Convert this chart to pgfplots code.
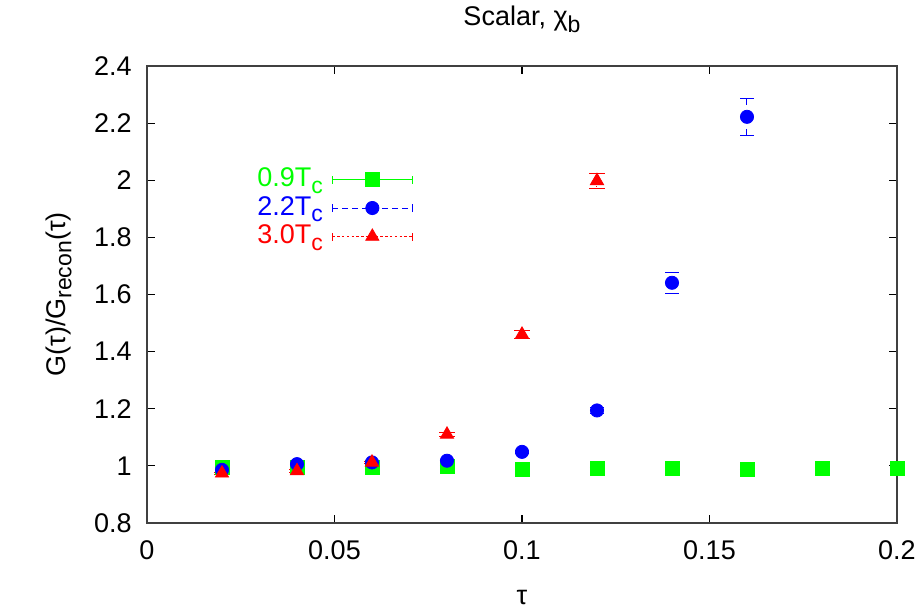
\documentclass[border=0pt]{standalone}
\usepackage{pgfplots}
\pgfplotsset{compat=1.18}
\usepackage{fontspec}
\setmainfont{Liberation Sans}
\usepackage{xcolor}
\definecolor{gpgreen}{RGB}{0,255,0}
\definecolor{gpblue}{RGB}{0,0,255}
\definecolor{gpred}{RGB}{255,0,0}
\newcommand{\gsub}[1]{\raisebox{-0.45ex}{\fontsize{11.5}{13}\selectfont #1}}

\pgfplotstableread{
x y e
0.02 0.996 0.003
0.04 0.993 0.003
0.06 0.996 0.003
0.08 0.998 0.003
0.10 0.986 0.003
0.12 0.990 0.003
0.14 0.990 0.003
0.16 0.986 0.003
0.18 0.990 0.003
0.20 0.990 0.003
}\datalow

\pgfplotstableread{
x y e
0.02 0.986 0.004
0.04 1.006 0.004
0.06 1.012 0.004
0.08 1.018 0.005
0.10 1.049 0.006
0.12 1.194 0.010
0.14 1.641 0.036
0.16 2.222 0.066
}\datamid

\pgfplotstableread{
x y e
0.02 0.974 0.004
0.04 0.982 0.004
0.06 1.012 0.005
0.08 1.110 0.008
0.10 1.460 0.015
0.12 1.998 0.027
}\datahigh

% legend sample: horizontal error bar with end caps and the mark in the middle
\pgfplotsset{
  gpkey/.style 2 args={
    legend image code/.code={
      \draw[#1, line width=0.5pt, #2] (0pt,0pt) -- (40pt,0pt);
      \draw[#1, line width=0.5pt, solid] (0pt,-2pt) -- (0pt,2pt) (40pt,-2pt) -- (40pt,2pt);
      \draw[##1] plot coordinates {(20pt,0pt)};
    }
  }
}

\begin{document}
\fontsize{13.5}{16}\selectfont
\begin{tikzpicture}
\begin{axis}[
  scale only axis,
  width=375pt, height=228.5pt,
  xmin=0, xmax=0.2, ymin=0.8, ymax=2.4,
  xtick={0,0.05,0.1,0.15,0.2},
  ytick={0.8,1,1.2,1.4,1.6,1.8,2,2.2,2.4},
  scaled ticks=false,
  /pgf/number format/fixed,
  /pgf/number format/precision=2,
  /pgf/number format/assume math mode=true,
  tick label style={font=\fontsize{13.5}{16}\selectfont},
  label style={font=\fontsize{13.5}{16}\selectfont},
  title style={font=\fontsize{13.5}{16}\selectfont, yshift=6pt},
  title={Scalar, χ\gsub{b}},
  xlabel={τ},
  ylabel={G(τ)/G\gsub{recon}(τ)},
  axis line style={black!75, line width=1pt},
  tick align=inside,
  major tick length=4pt,
  tick style={black, line width=0.6pt},
  xticklabel style={yshift=-4pt},
  yticklabel style={xshift=-3pt},
  xlabel style={yshift=-6pt},
  ylabel style={yshift=2pt},
  legend plot pos=right,
  legend cell align=right,
  legend style={draw=none, fill=none, at={(rel axis cs:0.363,0.795)}, anchor=north east,
    row sep=-1.2pt, font=\fontsize{13.5}{16}\selectfont},
  clip=false,
]
\addplot[gpgreen, only marks, mark=square*, mark size=3.5pt, gpkey={gpgreen}{solid},
  error bars/.cd, y dir=both, y explicit, error bar style={solid, line width=0.5pt}]
  table[x=x, y=y, y error=e] {\datalow};
\addlegendentry{\textcolor{gpgreen}{0.9T\gsub{c}}\hspace*{2.5pt}}
\addplot[gpblue, only marks, mark=*, mark size=3.3pt, gpkey={gpblue}{dash pattern=on 3pt off 2pt},
  error bars/.cd, y dir=both, y explicit, error bar style={dashed, line width=0.5pt}]
  table[x=x, y=y, y error=e] {\datamid};
\addlegendentry{\textcolor{gpblue}{2.2T\gsub{c}}\hspace*{2.5pt}}
\addplot[gpred, only marks, mark=triangle*, mark size=3.8pt, gpkey={gpred}{dash pattern=on 1.2pt off 1.2pt},
  error bars/.cd, y dir=both, y explicit, error bar style={densely dotted, line width=0.5pt}]
  table[x=x, y=y, y error=e] {\datahigh};
\addlegendentry{\textcolor{gpred}{3.0T\gsub{c}}\hspace*{2.5pt}}
\coordinate (sw) at (rel axis cs:0,0);
\coordinate (ne) at (rel axis cs:1,1);
\end{axis}
\path (sw) ++(-73.5pt,-42pt) coordinate (A);
\path (ne) ++(10.5pt,33pt) coordinate (B);
\pgfresetboundingbox
\path (A) rectangle (B);
\end{tikzpicture}
\end{document}
